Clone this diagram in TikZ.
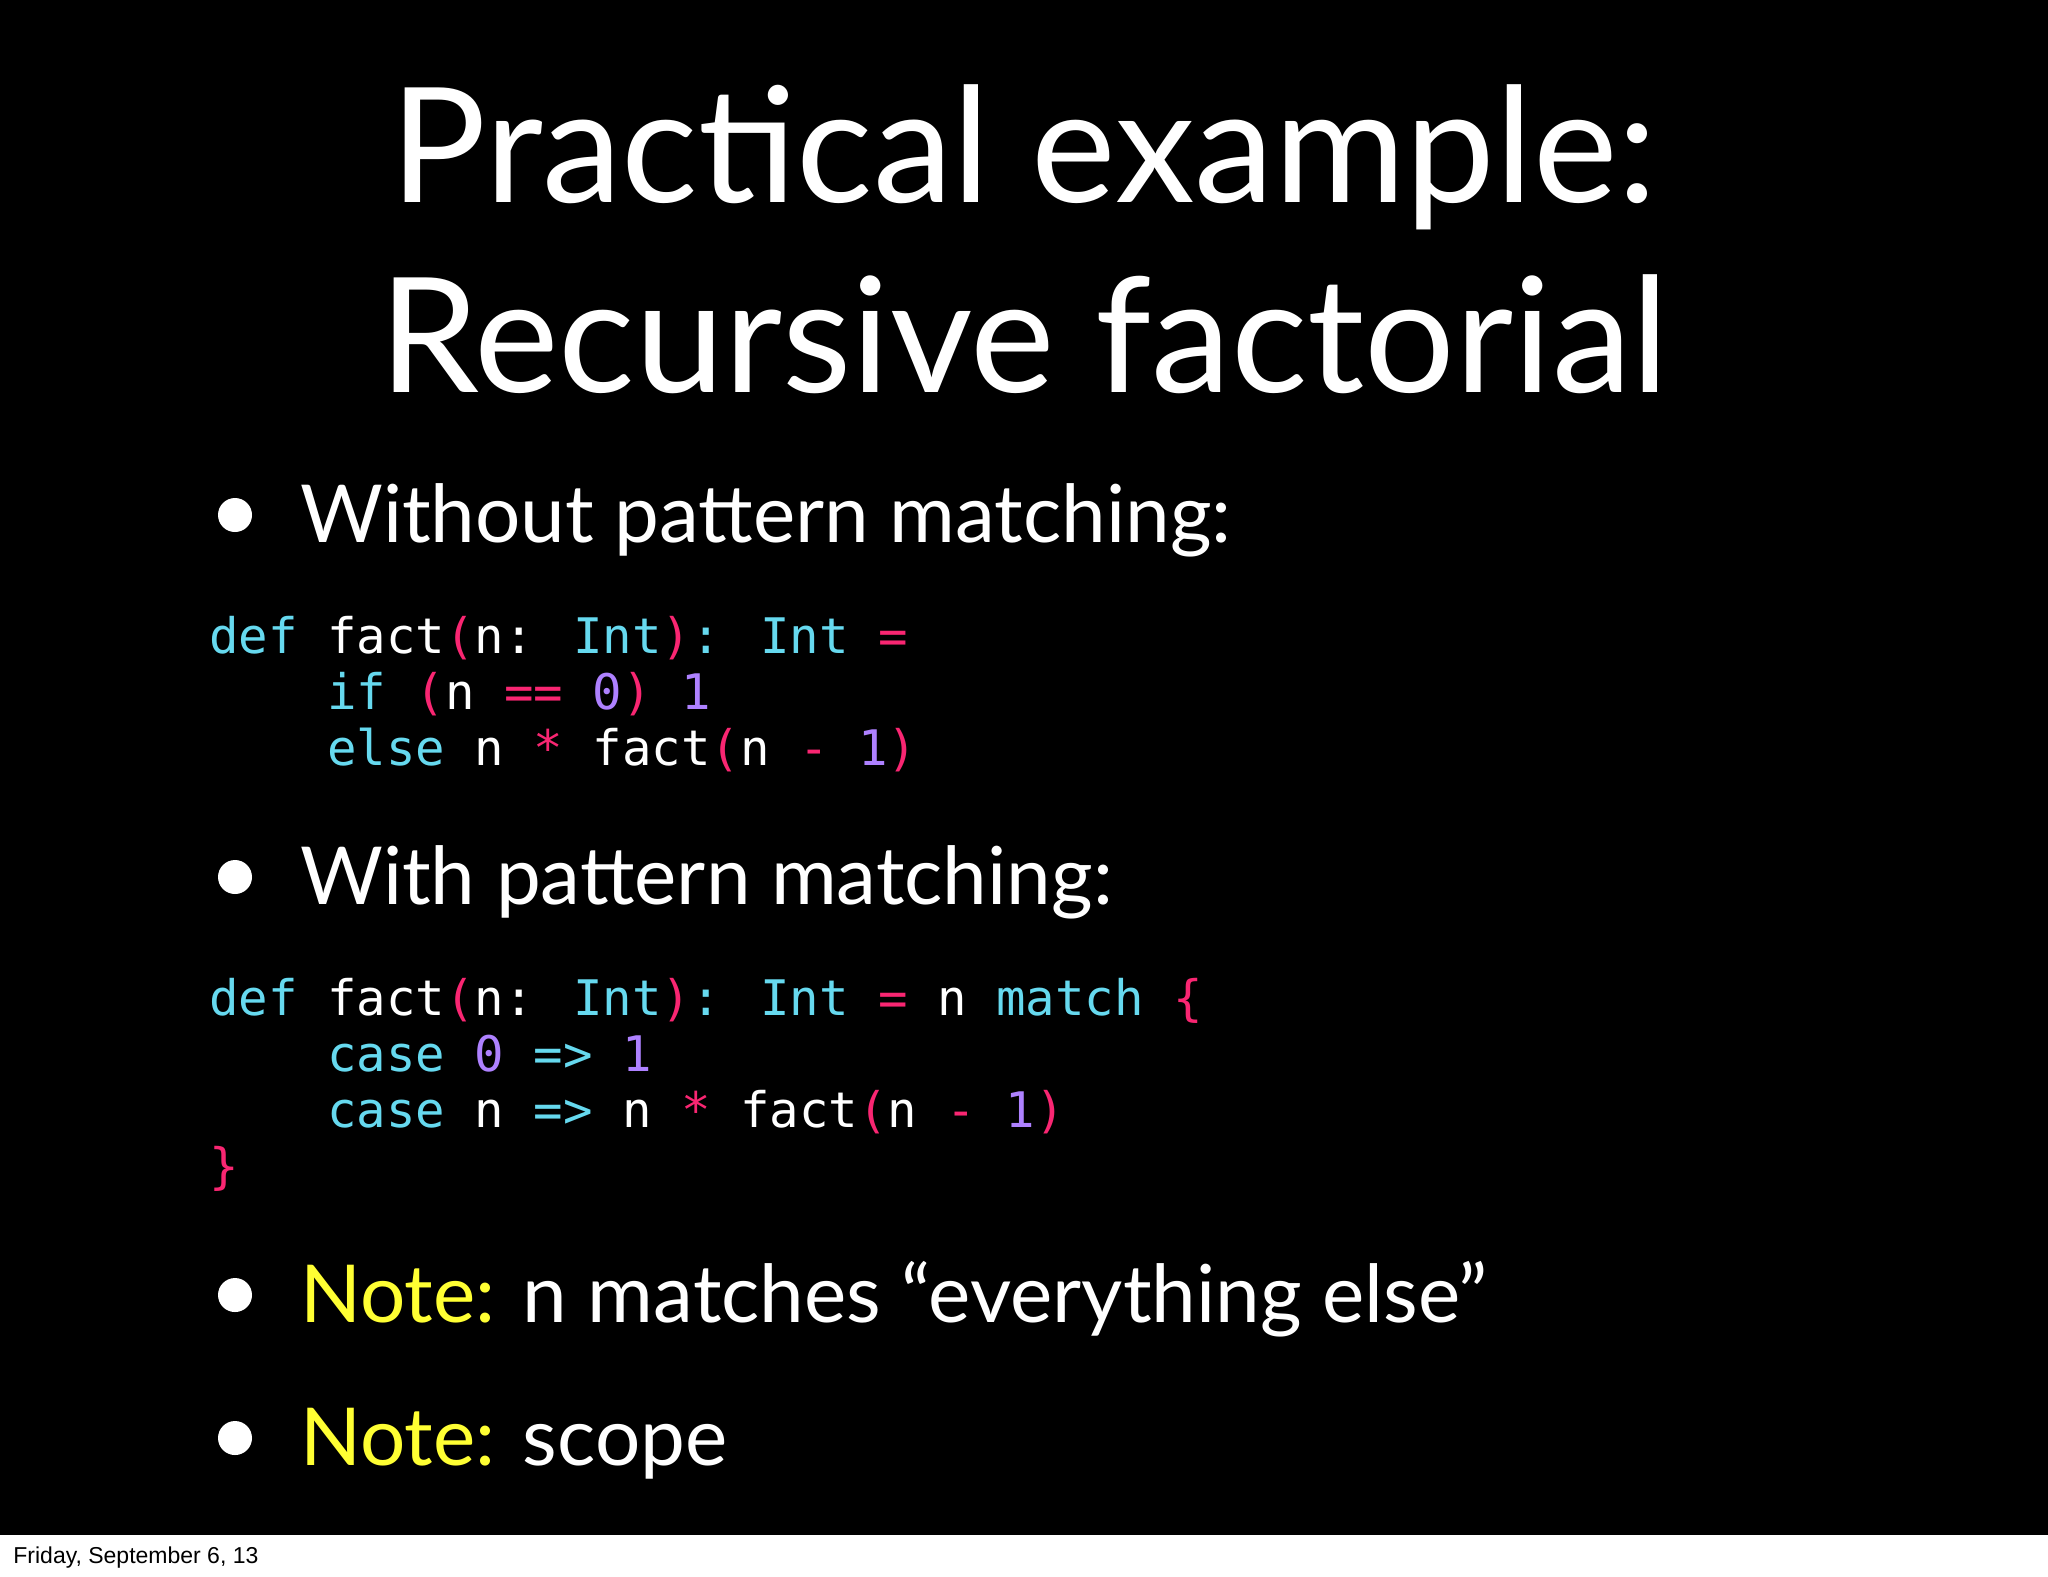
\documentclass[tikz,border=0pt]{standalone}
\usepackage{fontspec}
\setmainfont{Lato}
\newfontfamily\codefont{DejaVu Sans Mono}
\newfontfamily\footfont{Liberation Sans}
\definecolor{kw}{HTML}{66D9EF}
\definecolor{pk}{HTML}{F92672}
\definecolor{pu}{HTML}{AE81FF}
\definecolor{nt}{HTML}{FFFF33}
\newcommand{\cK}[1]{\textcolor{kw}{#1}}
\newcommand{\cP}[1]{\textcolor{pk}{#1}}
\newcommand{\cN}[1]{\textcolor{pu}{#1}}
\tikzset{
  title/.style={text=white,font=\fontsize{80}{90}\selectfont,anchor=base},
  bul/.style={text=white,font=\fontsize{40}{48}\selectfont,anchor=base west,inner sep=0},
  dot/.style={circle,fill=white,minimum size=17pt,inner sep=0},
  code/.style={text=white,font=\codefont\fontsize{24.5}{28}\selectfont,anchor=base west,inner sep=0}
}
\begin{document}
\begin{tikzpicture}[x=0.5pt,y=-0.5pt]
\fill[white] (0,0) rectangle (2048,1576);
\fill[black] (0,0) rectangle (2048,1535);
\useasboundingbox (0,0) rectangle (2048,1576);
\node[title] (t1) at (1024,202) {Practical example:};
\node[title] (t2) at (1024,392) {Recursive factorial};
\node[dot] (d1) at (235,515) {};
\node[bul] (b1) at (300,542) {Without pattern matching:};
\node[code] (c1) at (209,653) {\cK{def} fact\cP{(}n: \cK{Int}\cP{)}\cK{:} \cK{Int} \cP{=}};
\node[code] (c2) at (327,709) {\cK{if} \cP{(}n \cP{==} \cN{0}\cP{)} \cN{1}};
\node[code] (c3) at (327,765) {\cK{else} n \cP{*} fact\cP{(}n \cP{-} \cN{1}\cP{)}};
\node[dot] (d2) at (235,877) {};
\node[bul] (b2) at (300,904) {With pattern matching:};
\node[code] (e1) at (209,1015) {\cK{def} fact\cP{(}n: \cK{Int}\cP{)}\cK{:} \cK{Int} \cP{=} n \cK{match} \cP{\{}};
\node[code] (e2) at (327,1071) {\cK{case} \cN{0} \cK{=>} \cN{1}};
\node[code] (e3) at (327,1127) {\cK{case} n \cK{=>} n \cP{*} fact\cP{(}n \cP{-} \cN{1}\cP{)}};
\node[code] (e4) at (209,1183) {\cP{\}}};
\node[dot] (d3) at (235,1295) {};
\node[bul] (b3) at (300,1322) {\textcolor{nt}{Note:} n matches “everything else”};
\node[dot] (d4) at (235,1438) {};
\node[bul] (b4) at (300,1465) {\textcolor{nt}{Note:} scope};
\node[anchor=base west,inner sep=0,font=\footfont\fontsize{11.5}{13}\selectfont] (f) at (13,1563) {Friday, September 6, 13};
\end{tikzpicture}
\end{document}
